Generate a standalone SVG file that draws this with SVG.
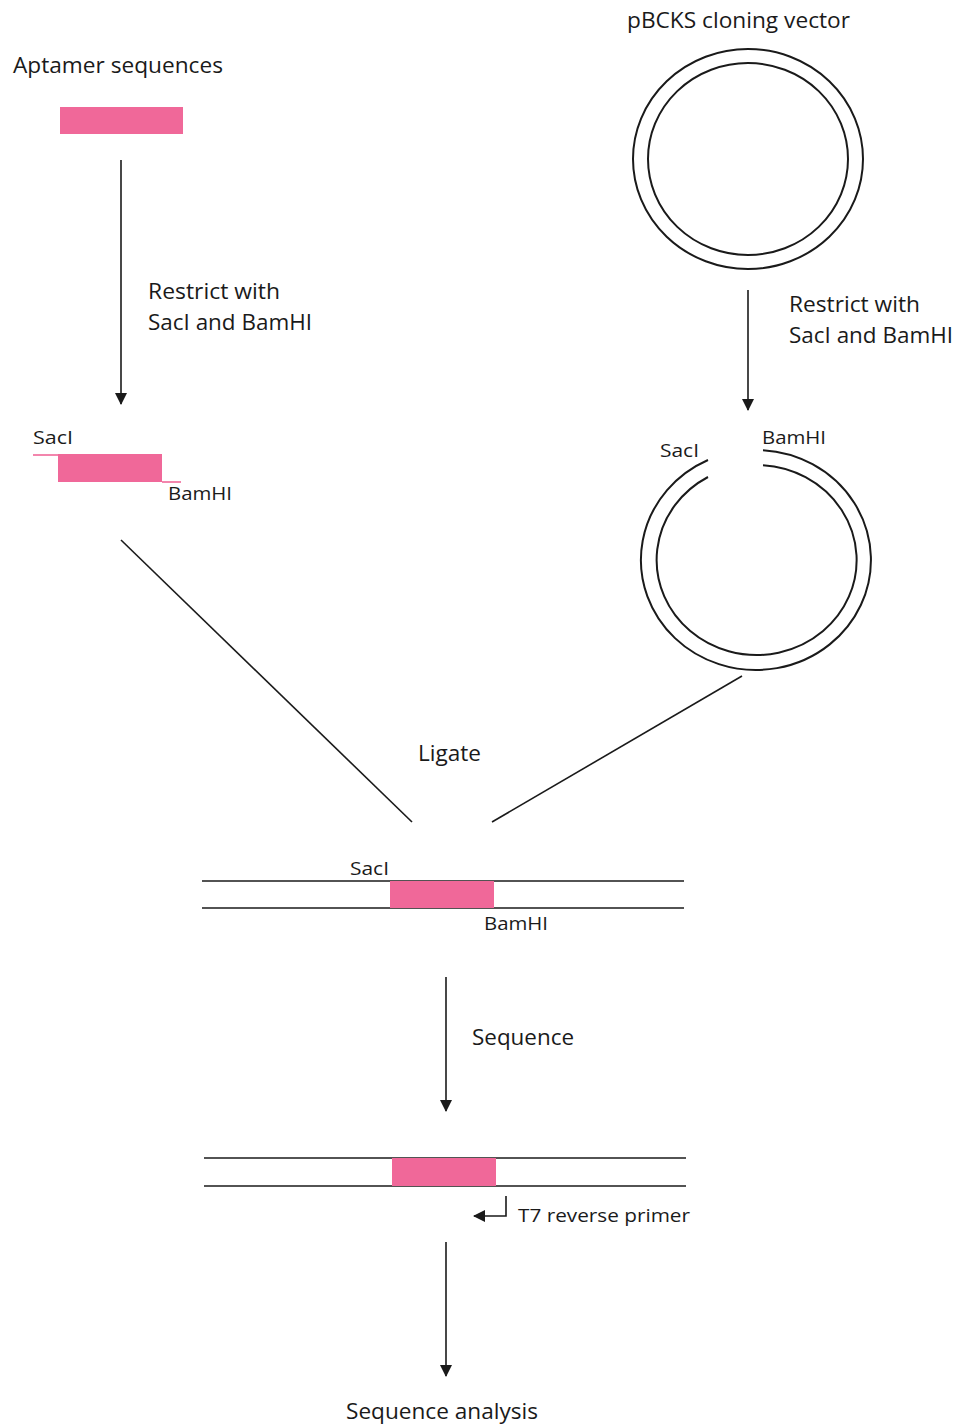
<svg xmlns="http://www.w3.org/2000/svg" width="963" height="1427" viewBox="0 0 963 1427">
  <style>
    text { font-family: "Open Sans", Lato, "Liberation Sans", sans-serif; fill: #1a1a1a; }
    .lbl { font-size: 21px; }
    .site { font-size: 19px; }
    .ln { stroke: #1a1a1a; stroke-width: 1.6; fill: none; }
    .ring { stroke: #1a1a1a; stroke-width: 2; fill: none; }
    .insert { fill: #F06899; }
    .overhang { stroke: #F06899; stroke-width: 1.6; fill: none; }
  </style>
  <defs>
    <marker id="arrow" viewBox="0 0 12 12" refX="11" refY="6" markerWidth="12" markerHeight="12" markerUnits="userSpaceOnUse" orient="auto">
      <path d="M0,0 L12,6 L0,12 Z" fill="#1a1a1a"/>
    </marker>
  </defs>
  <rect width="963" height="1427" fill="#ffffff"/>

  <!-- aptamer insert -->
  <g id="aptamer">
    <text class="lbl" x="13" y="73" textLength="210" lengthAdjust="spacingAndGlyphs">Aptamer sequences</text>
    <rect class="insert" x="60" y="107" width="123" height="27"/>
  </g>

  <!-- intact cloning vector -->
  <g id="vector">
    <text class="lbl" x="627" y="28" textLength="223" lengthAdjust="spacingAndGlyphs">pBCKS cloning vector</text>
    <ellipse class="ring" cx="748" cy="159" rx="115" ry="110"/>
    <ellipse class="ring" cx="748" cy="159" rx="100" ry="96"/>
  </g>

  <!-- digested aptamer fragment with sticky ends -->
  <g id="cut-insert">
    <text class="site" x="33" y="444" textLength="40" lengthAdjust="spacingAndGlyphs">SacI</text>
    <rect class="insert" x="58" y="454" width="104" height="28"/>
    <line class="overhang" x1="33" y1="455" x2="58" y2="455"/>
    <line class="overhang" x1="162" y1="482" x2="181" y2="482"/>
    <text class="site" x="168" y="500" textLength="64" lengthAdjust="spacingAndGlyphs">BamHI</text>
  </g>

  <!-- linearised vector -->
  <g id="cut-vector">
    <text class="site" x="660" y="457" textLength="39" lengthAdjust="spacingAndGlyphs">SacI</text>
    <text class="site" x="762" y="444" textLength="64" lengthAdjust="spacingAndGlyphs">BamHI</text>
    <path class="ring" d="M708,460 A115,110 0 1 0 763,450.2"/>
    <path class="ring" d="M708,477 A100,95 0 1 0 763,465.2"/>
  </g>

  <!-- ligation product -->
  <g id="recombinant">
    <text class="site" x="350" y="875" textLength="39" lengthAdjust="spacingAndGlyphs">SacI</text>
    <line class="ln" x1="202" y1="881" x2="684" y2="881"/>
    <line class="ln" x1="202" y1="908" x2="684" y2="908"/>
    <rect class="insert" x="390" y="881" width="104" height="27"/>
    <text class="site" x="484" y="930" textLength="64" lengthAdjust="spacingAndGlyphs">BamHI</text>
  </g>

  <!-- sequencing template with primer -->
  <g id="sequencing">
    <line class="ln" x1="204" y1="1158" x2="686" y2="1158"/>
    <line class="ln" x1="204" y1="1186" x2="686" y2="1186"/>
    <rect class="insert" x="392" y="1158" width="104" height="28"/>
    <path class="ln" d="M506,1196 L506,1216 L474,1216" marker-end="url(#arrow)"/>
    <text class="site" x="518" y="1222" textLength="172" lengthAdjust="spacingAndGlyphs">T7 reverse primer</text>
  </g>

  <!-- final step -->
  <g id="analysis">
    <text class="lbl" x="346" y="1419" textLength="192" lengthAdjust="spacingAndGlyphs">Sequence analysis</text>
  </g>

  <!-- connectors -->
  <g id="connectors">
    <line class="ln" x1="121" y1="160" x2="121" y2="404" marker-end="url(#arrow)"/>
    <text class="lbl" x="148" y="299" textLength="132" lengthAdjust="spacingAndGlyphs">Restrict with</text>
    <text class="lbl" x="148" y="330" textLength="164" lengthAdjust="spacingAndGlyphs">SacI and BamHI</text>

    <line class="ln" x1="748" y1="290" x2="748" y2="410" marker-end="url(#arrow)"/>
    <text class="lbl" x="789" y="312" textLength="131" lengthAdjust="spacingAndGlyphs">Restrict with</text>
    <text class="lbl" x="789" y="343" textLength="164" lengthAdjust="spacingAndGlyphs">SacI and BamHI</text>

    <line class="ln" x1="121" y1="540" x2="412" y2="822"/>
    <line class="ln" x1="742" y1="676" x2="492" y2="822"/>
    <text class="lbl" x="418" y="761" textLength="63" lengthAdjust="spacingAndGlyphs">Ligate</text>

    <line class="ln" x1="446" y1="977" x2="446" y2="1111" marker-end="url(#arrow)"/>
    <text class="lbl" x="472" y="1045" textLength="102" lengthAdjust="spacingAndGlyphs">Sequence</text>

    <line class="ln" x1="446" y1="1242" x2="446" y2="1376" marker-end="url(#arrow)"/>
  </g>
</svg>
